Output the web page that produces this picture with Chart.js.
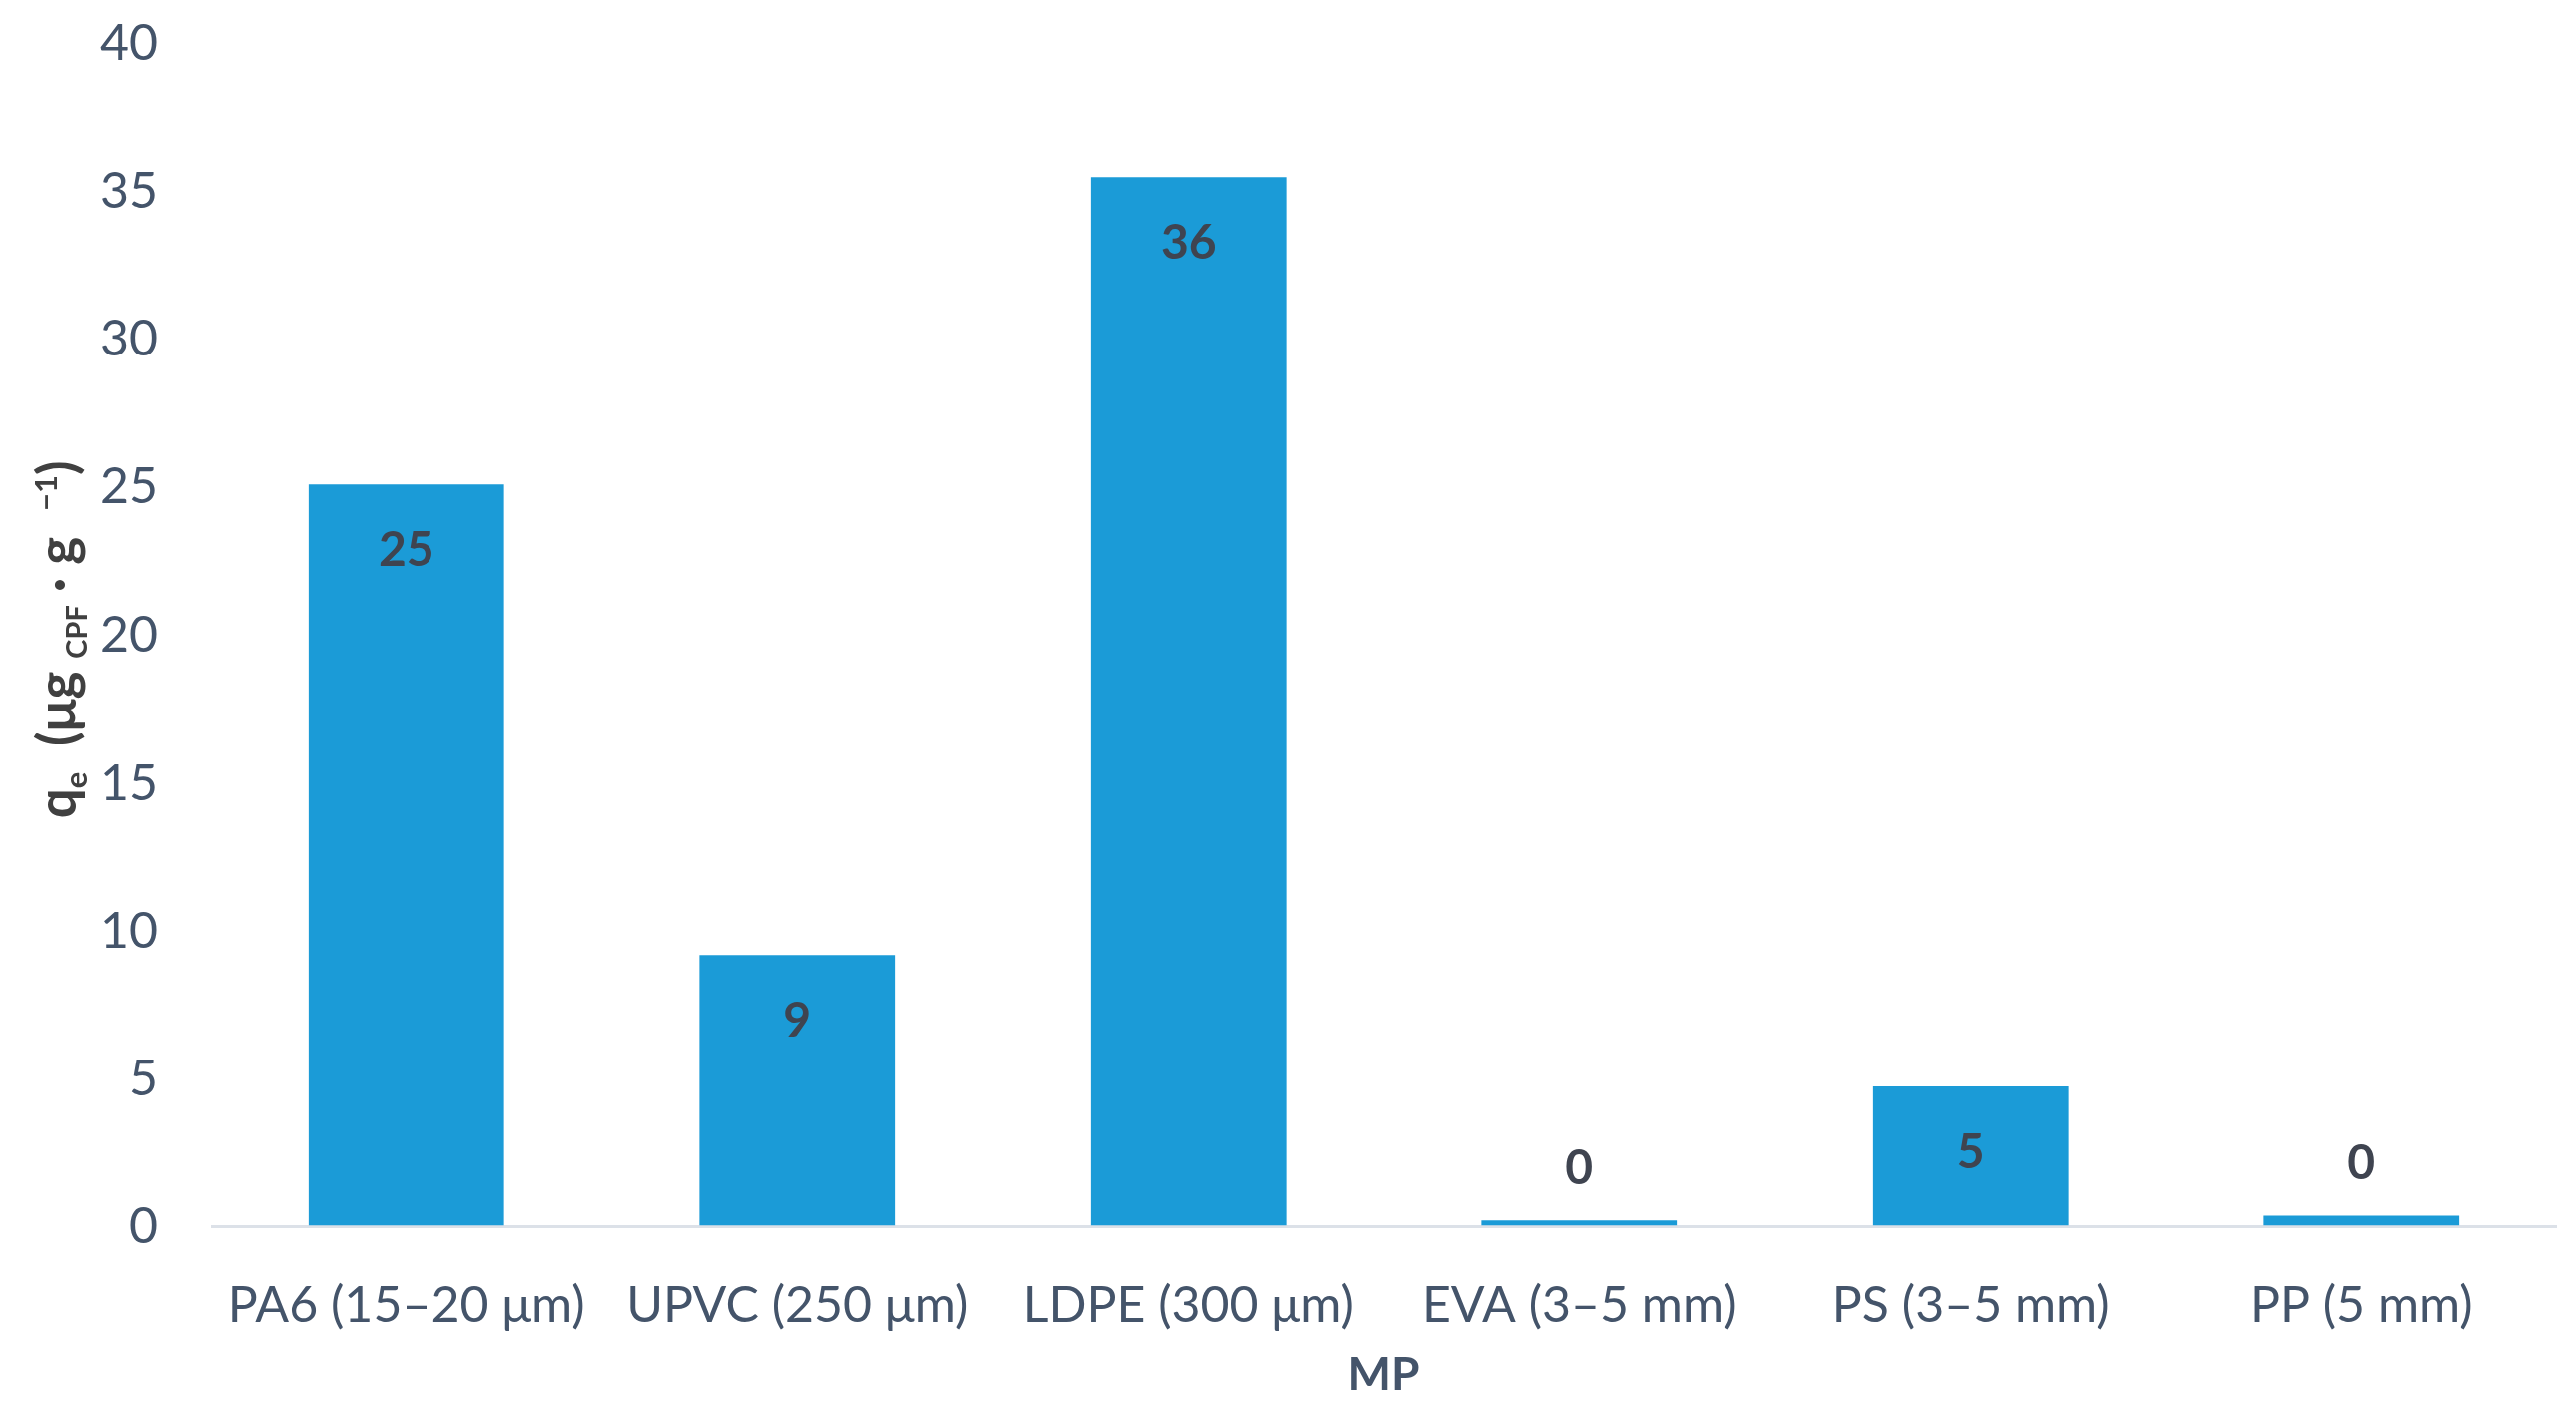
<!DOCTYPE html>
<html>
<head>
<meta charset="utf-8">
<script src="https://cdn.jsdelivr.net/npm/chart.js@4.4.1/dist/chart.umd.min.js"></script>
<style>
  html, body { margin: 0; padding: 0; background: #ffffff; }
  #wrap { width: 2579px; height: 1419px; position: relative; }
</style>
</head>
<body>
<div id="wrap"><canvas id="qeChart"></canvas></div>
<script>
// chart data
const categories = ['PA6 (15–20 μm)', 'UPVC (250 μm)', 'LDPE (300 μm)', 'EVA (3–5 mm)', 'PS (3–5 mm)', 'PP (5 mm)'];
const qeValues = [25.1, 9.2, 35.5, 0.22, 4.75, 0.38];
const yMin = 0;
const yMax = 40;
const yStep = 5;

const FONT = "Lato, 'Open Sans', sans-serif";
const BAR_COLOR = '#1b9bd7';
const AXIS_TEXT = '#44546a';
const LABEL_TEXT = '#3f4450';

// value labels: inside end of the bar, or just above it when the bar is too short
const valueLabels = {
  id: 'valueLabels',
  afterDatasetsDraw(chart) {
    const ctx = chart.ctx;
    const meta = chart.getDatasetMeta(0);
    ctx.save();
    ctx.font = 'bold 48px ' + FONT;
    ctx.fillStyle = LABEL_TEXT;
    ctx.textAlign = 'center';
    ctx.textBaseline = 'middle';
    meta.data.forEach((bar, i) => {
      const v = chart.data.datasets[0].data[i];
      const h = bar.base - bar.y;
      const y = h > 110 ? bar.y + 66 : bar.y - 52;
      ctx.fillText(String(Math.round(v)), bar.x, y);
    });
    ctx.restore();
  }
};

// y axis title with sub- and superscripts
const yTitle = {
  id: 'yTitle',
  afterDraw(chart) {
    const ctx = chart.ctx;
    const area = chart.chartArea;
    const parts = [
      { t: 'q', size: 53, dy: 0 },
      { t: 'e', size: 31, dy: 11 },
      { t: '  (μg ', size: 53, dy: 0 },
      { t: 'CPF', size: 29, dy: 11 },
      { t: ' · g  ', size: 53, dy: 0 },
      { t: '−1', size: 31, dy: -19 },
      { t: ')', size: 53, dy: 0 }
    ];
    ctx.save();
    ctx.fillStyle = '#404040';
    ctx.textBaseline = 'alphabetic';
    let total = 0;
    parts.forEach(p => {
      ctx.font = 'bold ' + p.size + 'px ' + FONT;
      p.w = ctx.measureText(p.t).width;
      total += p.w;
    });
    ctx.translate(76, (area.top + area.bottom) / 2 + 4);
    ctx.rotate(-Math.PI / 2);
    let x = -total / 2;
    parts.forEach(p => {
      ctx.font = 'bold ' + p.size + 'px ' + FONT;
      ctx.fillText(p.t, x, p.dy);
      x += p.w;
    });
    ctx.restore();
  }
};

const chartElement = document.getElementById('qeChart');

new Chart(chartElement, {
  type: 'bar',
  data: {
    labels: categories,
    datasets: [{
      label: 'qe',
      data: qeValues,
      backgroundColor: BAR_COLOR,
      borderWidth: 0,
      categoryPercentage: 1.0,
      barPercentage: 0.5
    }]
  },
  options: {
    responsive: true,
    maintainAspectRatio: false,
    animation: false,
    devicePixelRatio: 1,
    layout: {
      padding: { top: 44, right: 19, bottom: 14, left: 47 }
    },
    plugins: {
      legend: { display: false },
      tooltip: { enabled: false }
    },
    scales: {
      x: {
        grid: { display: false, drawTicks: false },
        border: { display: false },
        ticks: {
          color: AXIS_TEXT,
          padding: 49,
          maxRotation: 0,
          autoSkip: false,
          font: { family: FONT, size: 50 }
        },
        title: {
          display: true,
          text: 'MP',
          color: AXIS_TEXT,
          padding: { top: -37, bottom: 0 },
          font: { family: FONT, size: 46, weight: 'bold' }
        }
      },
      y: {
        min: yMin,
        max: yMax,
        border: { display: false },
        grid: {
          drawTicks: false,
          lineWidth: 3,
          color: (c) => c.tick && c.tick.value === 0 ? '#dce1e8' : 'rgba(0,0,0,0)'
        },
        ticks: {
          stepSize: yStep,
          color: AXIS_TEXT,
          padding: 53,
          font: { family: FONT, size: 50 }
        },
        afterFit(scale) {
          // tick padding is only meant horizontally here
          scale.paddingTop = 0;
          scale.paddingBottom = 0;
        }
      }
    }
  },
  plugins: [valueLabels, yTitle]
});
</script>
</body>
</html>
